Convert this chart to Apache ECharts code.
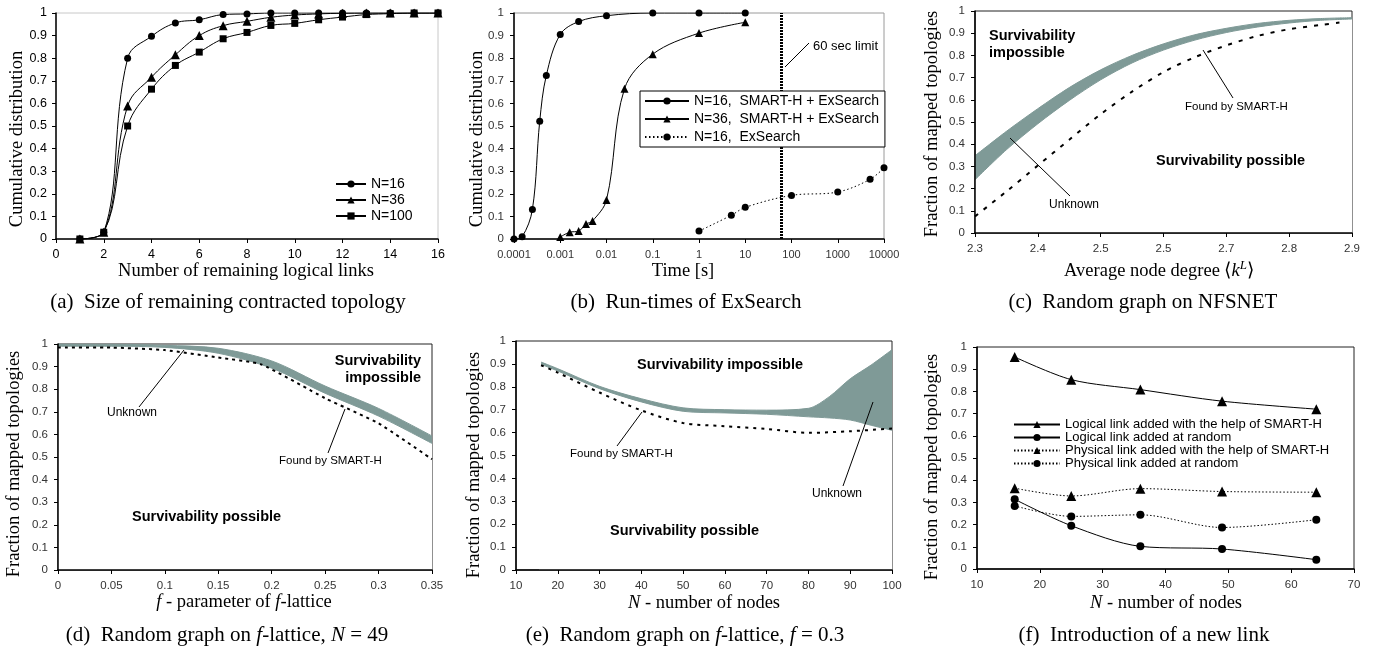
<!DOCTYPE html>
<html><head><meta charset="utf-8">
<script src="https://cdn.jsdelivr.net/npm/echarts@6/dist/echarts.min.js"></script>
<style>html,body{margin:0;padding:0;background:#fff}#c{width:1376px;height:648px}</style>
</head><body><div id="c"></div>
<script>
// ---------- (a) Size of remaining contracted topology ----------
const aX    = [1,2,3,4,5,6,7,8,9,10,11,12,13,14,15,16];
const aN16  = [0,0.03,0.80,0.897,0.956,0.970,0.993,0.996,1,1,1,1,1,1,1,1];
const aN36  = [0,0.03,0.589,0.716,0.815,0.90,0.944,0.963,0.981,0.991,0.996,0.999,1,1,1,1];
const aN100 = [0,0.03,0.50,0.663,0.768,0.827,0.886,0.914,0.945,0.954,0.970,0.982,0.993,0.997,1,1];
// ---------- (b) Run-times of ExSearch ----------
const bT16  = [0.0001,0.00015,0.00025,0.00036,0.0005,0.001,0.0025,0.01,0.1,1,10];
const bC16  = [0,0.01,0.131,0.521,0.724,0.905,0.962,0.988,1,1,1];
const bT36  = [0.001,0.0016,0.0025,0.0036,0.005,0.01,0.0245,0.1,1,10];
const bC36  = [0.009,0.03,0.035,0.066,0.08,0.173,0.665,0.818,0.911,0.959];
const bTEx  = [1,5,10,100,1000,5000,10000];
const bCEx  = [0.035,0.105,0.14,0.193,0.208,0.264,0.315];
const bLimit = 60;
const bTicks = ['0.0001','0.001','0.01','0.1','1','10','100','1000','10000'];
// ---------- (c) Random graph on NFSNET ----------
const cX     = [2.3,2.35,2.4,2.45,2.5,2.55,2.6,2.65,2.7,2.75,2.8,2.85,2.9];
const cUpper = [0.348,0.458,0.56,0.655,0.735,0.80,0.852,0.893,0.922,0.944,0.958,0.966,0.97];
const cLower = [0.24,0.375,0.492,0.597,0.69,0.766,0.824,0.869,0.903,0.928,0.946,0.958,0.964];
const cSX    = [2.3,2.35,2.4,2.45,2.5,2.55,2.6,2.65,2.7,2.75,2.8,2.85,2.88];
const cSmart = [0.075,0.187,0.304,0.42,0.535,0.637,0.725,0.792,0.845,0.888,0.918,0.937,0.948];
const cTicks = ['2.3','2.4','2.5','2.5','2.7','2.8','2.9'];
// ---------- (d) Random graph on f-lattice, N=49 ----------
const dX     = [0,0.05,0.1,0.15,0.2,0.25,0.3,0.35];
const dUpper = [1.0,0.999,0.994,0.981,0.925,0.814,0.715,0.593];
const dLower = [0.99,0.99,0.985,0.959,0.893,0.782,0.681,0.56];
const dSX    = [0,0.05,0.1,0.15,0.19,0.25,0.3,0.35];
const dSmart = [0.984,0.984,0.973,0.94,0.91,0.76,0.649,0.49];
// ---------- (e) Random graph on f-lattice, f=0.3 ----------
const eX     = [16,20,30,40,50,60,70,80,85,90,95,100];
const eUpper = [0.908,0.879,0.802,0.748,0.708,0.70,0.698,0.706,0.757,0.835,0.895,0.962];
const eLower = [0.898,0.869,0.792,0.734,0.693,0.686,0.68,0.669,0.664,0.655,0.632,0.61];
const eSX    = [16,20,30,40,50,60,70,80,90,100];
const eSmart = [0.894,0.862,0.775,0.697,0.642,0.628,0.616,0.599,0.606,0.618];
// ---------- (f) Introduction of a new link ----------
const fX  = [16,25,36,49,64];
const fLS = [0.955,0.853,0.808,0.756,0.72];
const fLR = [0.314,0.195,0.102,0.09,0.042];
const fPS = [0.364,0.329,0.362,0.349,0.346];
const fPR = [0.284,0.237,0.244,0.187,0.222];

const SANS = 'Liberation Sans, Arial, sans-serif';
const SERIF = 'Liberation Serif, Times New Roman, serif';
const BAND = '#7f9a97';
const zip = (xs, ys) => xs.map((x, i) => [x, ys[i]]);

function xAx(gi, o) {
  return Object.assign({
    gridIndex: gi, type: 'value', z: 5,
    axisLine: {onZero: false, lineStyle: {color: '#000', width: 1.5}},
    axisTick: {show: true, length: 4, lineStyle: {color: '#000'}},
    axisLabel: {color: '#333', fontSize: 11.5, fontFamily: SANS, margin: 10},
    splitLine: {show: false}
  }, o);
}
function yAx(gi, o) {
  return Object.assign({
    gridIndex: gi, type: 'value', min: 0, max: 1, interval: 0.1, z: 5,
    axisLine: {onZero: false, lineStyle: {color: '#000', width: 1.5}},
    axisTick: {show: true, length: 4, lineStyle: {color: '#000'}},
    axisLabel: {color: '#333', fontSize: 11.5, fontFamily: SANS, margin: 10},
    splitLine: {show: false}
  }, o);
}
const blackLine = (w, t) => ({color: '#000', width: w, type: t || 'solid'});

// band = upper curve filled down to the axis, then lower curve filled white on top of it
function bandSeries(gi, xs, lo, up, shift) {
  const mask = {color: '#fff', opacity: 1, origin: 'start'};
  if (shift) Object.assign(mask, {shadowColor: '#fff', shadowOffsetX: -2, shadowBlur: 0});
  return [
    {type: 'line', xAxisIndex: gi, yAxisIndex: gi, data: zip(xs, up), symbol: 'none', smooth: 0.3, z: 2,
     lineStyle: {color: BAND, width: 1}, areaStyle: {color: BAND, opacity: 1, origin: 'start'}, silent: true},
    {type: 'line', xAxisIndex: gi, yAxisIndex: gi, data: zip(xs, lo), symbol: 'none', smooth: 0.3, z: 2,
     lineStyle: {color: BAND, width: 1}, areaStyle: mask, silent: true}
  ];
}

const labelA = {color: '#000', fontSize: 12.5, fontFamily: SANS, margin: 9};

const series = [
  // (a)
  {name: 'N=16', type: 'line', xAxisIndex: 0, yAxisIndex: 0, data: zip(aX, aN16), symbol: 'circle', symbolSize: 7,
   smooth: 0.4, itemStyle: {color: '#000'}, lineStyle: blackLine(1)},
  {name: 'N=36', type: 'line', xAxisIndex: 0, yAxisIndex: 0, data: zip(aX, aN36), symbol: 'triangle', symbolSize: 9,
   smooth: 0.4, itemStyle: {color: '#000'}, lineStyle: blackLine(1)},
  {name: 'N=100', type: 'line', xAxisIndex: 0, yAxisIndex: 0, data: zip(aX, aN100), symbol: 'rect', symbolSize: 7,
   smooth: 0.4, itemStyle: {color: '#000'}, lineStyle: blackLine(1)},
  // (b)
  {name: 'N=16,  SMART-H + ExSearch', type: 'line', xAxisIndex: 1, yAxisIndex: 1, data: zip(bT16, bC16),
   symbol: 'circle', symbolSize: 7, smooth: 0.35, itemStyle: {color: '#000'}, lineStyle: blackLine(1),
   markLine: {silent: true, symbol: 'none', label: {show: false}, lineStyle: {color: '#000', width: 3, type: [2, 1]},
              data: [{xAxis: bLimit}]}},
  {name: 'N=36,  SMART-H + ExSearch', type: 'line', xAxisIndex: 1, yAxisIndex: 1, data: zip(bT36, bC36),
   symbol: 'triangle', symbolSize: 8, smooth: 0.35, itemStyle: {color: '#000'}, lineStyle: blackLine(1)},
  {name: 'N=16,  ExSearch', type: 'line', xAxisIndex: 1, yAxisIndex: 1, data: zip(bTEx, bCEx),
   symbol: 'circle', symbolSize: 7, smooth: 0.35, itemStyle: {color: '#000'}, lineStyle: blackLine(1, [1.5, 2.5])},
  // (c)
  ...bandSeries(2, cX, cLower, cUpper, false),
  {type: 'line', xAxisIndex: 2, yAxisIndex: 2, data: zip(cSX, cSmart), symbol: 'none', smooth: 0.3, z: 3,
   lineStyle: blackLine(2, [4, 7]), silent: true},
  // (d)
  ...bandSeries(3, dX, dLower, dUpper, false),
  {type: 'line', xAxisIndex: 3, yAxisIndex: 3, data: zip(dSX, dSmart), symbol: 'none', smooth: 0.15, z: 3,
   lineStyle: blackLine(2, [3, 4]), silent: true},
  // (e)
  ...bandSeries(4, eX, eLower, eUpper, true),
  {type: 'line', xAxisIndex: 4, yAxisIndex: 4, data: zip(eSX, eSmart), symbol: 'none', smooth: 0.3, z: 3,
   lineStyle: blackLine(2, [3, 5]), silent: true},
  // (f)
  {name: 'Logical link added with the help of SMART-H', type: 'line', xAxisIndex: 5, yAxisIndex: 5, data: zip(fX, fLS),
   symbol: 'triangle', symbolSize: 10, smooth: 0.3, itemStyle: {color: '#000'}, lineStyle: blackLine(1)},
  {name: 'Logical link added at random', type: 'line', xAxisIndex: 5, yAxisIndex: 5, data: zip(fX, fLR),
   symbol: 'circle', symbolSize: 8, smooth: 0.3, itemStyle: {color: '#000'}, lineStyle: blackLine(1)},
  {name: 'Physical link added with the help of SMART-H', type: 'line', xAxisIndex: 5, yAxisIndex: 5, data: zip(fX, fPS),
   symbol: 'triangle', symbolSize: 10, smooth: 0.3, itemStyle: {color: '#000'}, lineStyle: blackLine(1, [1.5, 2])},
  {name: 'Physical link added at random', type: 'line', xAxisIndex: 5, yAxisIndex: 5, data: zip(fX, fPR),
   symbol: 'circle', symbolSize: 8, smooth: 0.3, itemStyle: {color: '#000'}, lineStyle: blackLine(1, [1.5, 2])}
];

// ---- text helpers ----
function T(x, y, text, o) {
  return {type: 'text', x: x, y: y, silent: true, z: 100,
    style: Object.assign({text: text, fill: '#000', fontFamily: SANS, fontSize: 12, align: 'left', verticalAlign: 'middle'}, o || {})};
}
function L(x1, y1, x2, y2) {
  return {type: 'line', silent: true, z: 100, shape: {x1: x1, y1: y1, x2: x2, y2: y2}, style: {stroke: '#000', lineWidth: 1}};
}
const serifTxt = (sz) => ({fontFamily: SERIF, fontSize: sz, align: 'center'});
const rich = (sz) => ({
  r: {fontFamily: SERIF, fontSize: sz},
  i: {fontFamily: SERIF, fontSize: sz, fontStyle: 'italic'},
  s: {fontFamily: SERIF, fontSize: Math.round(sz * 0.72), fontStyle: 'italic', padding: [0, 0, 10, 0]}
});
const BOLD = {fontWeight: 'bold', fontSize: 14.5};
const AX = 18.5, CAP = 21;
const VERT = (x, y, text) => Object.assign(T(x, y, text, serifTxt(AX)), {rotation: Math.PI / 2});

const graphic = [
  // axis titles
  T(246, 271, 'Number of remaining logical links', serifTxt(AX)),
  T(683, 271, 'Time [s]', serifTxt(AX)),
  T(1159, 271, '{r|Average node degree ⟨}{i|k}{s|L}{r|⟩}', {align: 'center', rich: rich(AX)}),
  T(244, 602, '{i|f}{r| - parameter of }{i|f}{r|-lattice}', {align: 'center', rich: rich(AX)}),
  T(704, 603, '{i|N}{r| - number of nodes}', {align: 'center', rich: rich(AX)}),
  T(1166, 603, '{i|N}{r| - number of nodes}', {align: 'center', rich: rich(AX)}),
  VERT(17, 139, 'Cumulative distribution'),
  VERT(477, 139, 'Cumulative distribution'),
  VERT(932, 124, 'Fraction of mapped topologies'),
  VERT(14, 464, 'Fraction of mapped topologies'),
  VERT(474, 465, 'Fraction of mapped topologies'),
  VERT(932, 467, 'Fraction of mapped topologies'),
  // captions
  T(228, 302, '(a)  Size of remaining contracted topology', serifTxt(CAP)),
  T(686, 302, '(b)  Run-times of ExSearch', serifTxt(CAP)),
  T(1143, 302, '(c)  Random graph on NFSNET', serifTxt(CAP)),
  T(227, 635, '{r|(d)  Random graph on }{i|f}{r|-lattice, }{i|N}{r| = 49}', {align: 'center', rich: rich(CAP)}),
  T(685, 635, '{r|(e)  Random graph on }{i|f}{r|-lattice, }{i|f}{r| = 0.3}', {align: 'center', rich: rich(CAP)}),
  T(1144, 635, '(f)  Introduction of a new link', serifTxt(CAP)),
  // (b) annotation
  T(813, 46, '60 sec limit', {fontSize: 13}),
  L(785, 67, 809, 43),
  // (c) annotations
  T(989, 36, 'Survivability', BOLD),
  T(989, 53, 'impossible', BOLD),
  T(1156, 161, 'Survivability possible', BOLD),
  T(1185, 107, 'Found by SMART-H', {fontSize: 11.5}),
  L(1203, 50, 1233, 98),
  T(1049, 205, 'Unknown', {fontSize: 12}),
  L(1010, 138, 1070, 196),
  // (d) annotations
  T(421, 361, 'Survivability', Object.assign({align: 'right'}, BOLD)),
  T(421, 378, 'impossible', Object.assign({align: 'right'}, BOLD)),
  T(107, 413, 'Unknown', {fontSize: 12}),
  L(184, 350, 139, 407),
  T(279, 461, 'Found by SMART-H', {fontSize: 11.5}),
  L(345, 409, 328, 453),
  T(132, 517, 'Survivability possible', BOLD),
  // (e) annotations
  T(637, 365, 'Survivability impossible', BOLD),
  T(570, 454, 'Found by SMART-H', {fontSize: 11.5}),
  L(642, 412, 617, 446),
  T(812, 494, 'Unknown', {fontSize: 12}),
  L(873, 402, 843, 486),
  T(610, 531, 'Survivability possible', BOLD)
];

const legendBase = {orient: 'vertical', selectedMode: false, itemHeight: 9, padding: 0, z: 20,
  textStyle: {color: '#000', fontFamily: SANS, fontSize: 14}};

const option = {
  animation: false,
  backgroundColor: '#fff',
  grid: [
    {left: 56, top: 13, width: 382, height: 226, show: true, borderColor: '#c8c8c8', borderWidth: 1},
    {left: 514, top: 13, width: 370, height: 226, show: true, borderColor: '#9a9a9a', borderWidth: 1},
    {left: 975, top: 11, width: 377, height: 222, show: true, borderColor: '#222', borderWidth: 1},
    {left: 58, top: 344, width: 374, height: 226, show: true, borderColor: '#222', borderWidth: 1},
    {left: 516, top: 341, width: 376, height: 229, show: true, borderColor: '#222', borderWidth: 1},
    {left: 977, top: 347, width: 377, height: 222, show: true, borderColor: '#222', borderWidth: 1}
  ],
  xAxis: [
    xAx(0, {min: 0, max: 16, interval: 2, axisLabel: labelA}),
    xAx(1, {type: 'log', logBase: 10, min: 0.0001, max: 10000, splitNumber: 8,
      axisLabel: {color: '#333', fontSize: 11, fontFamily: SANS, margin: 10,
        formatter: v => bTicks[Math.round(Math.log10(v)) + 4]}}),
    xAx(2, {min: 2.3, max: 2.9, interval: 0.1,
      axisLabel: {color: '#333', fontSize: 11.5, fontFamily: SANS, margin: 10,
        formatter: v => cTicks[Math.round((v - 2.3) * 10)]}}),
    xAx(3, {min: 0, max: 0.35, interval: 0.05}),
    xAx(4, {min: 10, max: 100, interval: 10}),
    xAx(5, {min: 10, max: 70, interval: 10})
  ],
  yAxis: [
    yAx(0, {axisLabel: labelA}), yAx(1), yAx(2), yAx(3), yAx(4), yAx(5)
  ],
  legend: [
    Object.assign({}, legendBase, {left: 335, top: 177, itemWidth: 30, itemGap: 2,
      data: ['N=16', 'N=36', 'N=100']}),
    Object.assign({}, legendBase, {left: 640, top: 91, itemWidth: 44, itemGap: 4, padding: [3, 6, 3, 4],
      borderColor: '#000', borderWidth: 1, backgroundColor: '#fff',
      data: ['N=16,  SMART-H + ExSearch', 'N=36,  SMART-H + ExSearch', 'N=16,  ExSearch']}),
    Object.assign({}, legendBase, {left: 1013, top: 418, itemWidth: 46, itemGap: 0,
      textStyle: {color: '#000', fontFamily: SANS, fontSize: 13},
      data: ['Logical link added with the help of SMART-H', 'Logical link added at random',
             'Physical link added with the help of SMART-H', 'Physical link added at random']})
  ],
  series: series,
  graphic: graphic
};

const chart = echarts.init(document.getElementById('c'), null, {renderer: 'canvas'});
chart.setOption(option);
</script>
</body></html>
